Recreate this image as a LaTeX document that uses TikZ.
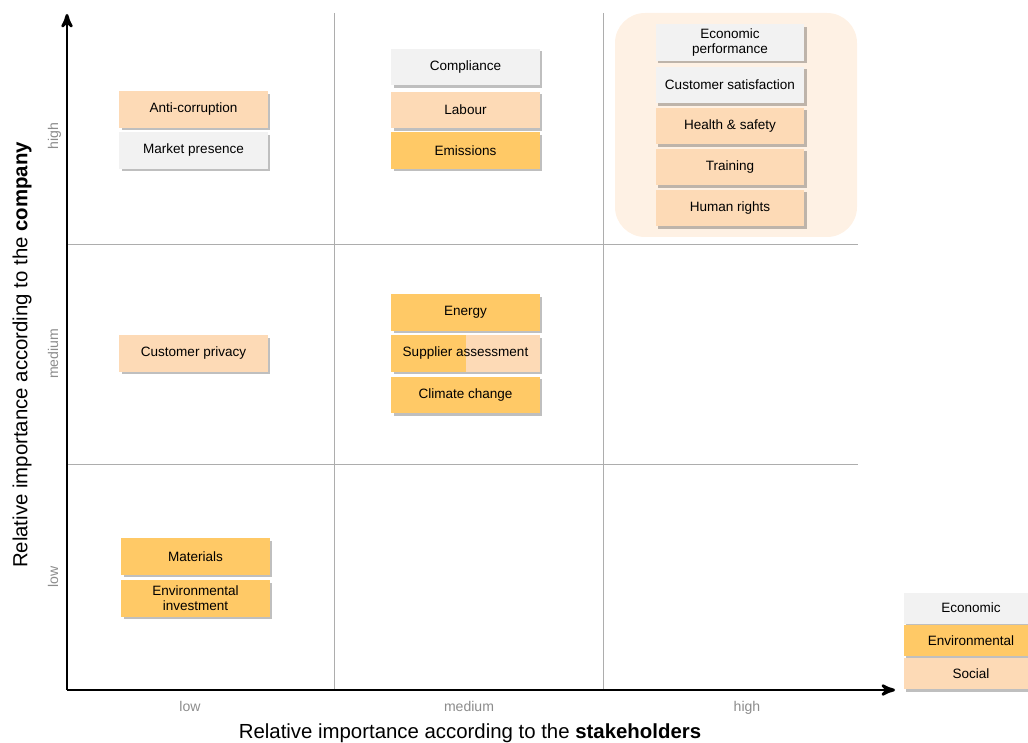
\documentclass[tikz,border=0pt]{standalone}
\usepackage{fontspec}
\setmainfont{Liberation Sans}
\usepackage{tikz}
\usetikzlibrary{arrows}
\usetikzlibrary{shadows}

\definecolor{econ}{HTML}{F2F2F2}
\definecolor{envi}{HTML}{FFC966}
\definecolor{soci}{HTML}{FDDAB6}
\definecolor{halo}{HTML}{FEF1E4}
\definecolor{gridgray}{HTML}{ADADAD}
\definecolor{ticktext}{HTML}{8C8C8C}

\tikzset{
  topic/.style={minimum width=2.98cm, minimum height=0.73cm, inner sep=1pt,
    align=center, font=\fontsize{7.7}{8.6}\selectfont,
    drop shadow={shadow xshift=0.05cm, shadow yshift=-0.05cm, fill=black, opacity=0.25}},
  econbox/.style={topic, fill=econ},
  envibox/.style={topic, fill=envi},
  socibox/.style={topic, fill=soci},
  tick/.style={text=ticktext, font=\fontsize{8}{9}\selectfont, text height=1.5ex, text depth=0.4ex},
  gridline/.style={gridgray, line width=0.5pt}
}

\begin{document}
\begin{tikzpicture}[x=0.02cm, y=-0.02cm]
\useasboundingbox (0,0) rectangle (1028,743);

% highlighted group
\fill[halo, rounded corners=0.6cm] (615,13) rectangle (857,237);

% grid
\draw[gridline] (334,13) -- (334,690);
\draw[gridline] (603,13) -- (603,690);
\draw[gridline] (67,244) -- (858,244);
\draw[gridline] (67,464) -- (858,464);

% axes
\coordinate (origin) at (67,690);
\coordinate (ytop) at (67,14);
\coordinate (xend) at (895,690);
\draw[line width=1.6pt, -stealth'] (origin) -- (ytop);
\draw[line width=1.6pt, -stealth'] (origin) -- (xend);

\node[tick] (xlow) at (190,706) {low};
\node[tick] (xmed) at (469,706) {medium};
\node[tick] (xhigh) at (747,706) {high};
\node[tick, rotate=90] (ylow) at (53,577) {low};
\node[tick, rotate=90] (ymed) at (53,354) {medium};
\node[tick, rotate=90] (yhigh) at (53,136) {high};

\node[font=\fontsize{11.6}{13}\selectfont] (xtitle) at (470,733)
  {Relative importance according to the \textbf{stakeholders}};
\node[font=\fontsize{11.6}{13}\selectfont, rotate=90] (ytitle) at (22,355)
  {Relative importance according to the \textbf{company}};

% low stakeholders
\node[socibox] (anticorr) at (193.5,109.5) {Anti-corruption};
\node[econbox] (market) at (193.5,150.5) {Market presence};
\node[socibox] (privacy) at (193.5,353.5) {Customer privacy};
\node[envibox] (materials) at (195.5,556.5) {Materials};
\node[envibox] (envinvest) at (195.5,598.5) {Environmental\\investment};

% medium stakeholders
\node[econbox] (compliance) at (465.5,67) {Compliance};
\node[socibox] (labour) at (465.5,110) {Labour};
\node[envibox] (emissions) at (465.5,150.5) {Emissions};
\node[envibox] (energy) at (465.5,312.5) {Energy};
\node[socibox, path picture={\fill[envi] (path picture bounding box.south west)
  rectangle (path picture bounding box.north);}] (supplier) at (465.5,353.5)
  {Supplier assessment};
\node[envibox] (climate) at (465.5,395) {Climate change};

% high stakeholders
\node[econbox] (econperf) at (730,42.5) {Economic\\performance};
\node[econbox] (custsat) at (730,85) {Customer satisfaction};
\node[socibox] (health) at (730,126) {Health \& safety};
\node[socibox] (training) at (730,167) {Training};
\node[socibox] (rights) at (730,208) {Human rights};

% legend
\node[econbox, minimum width=2.7cm, minimum height=0.62cm] (legecon) at (971,608) {Economic};
\node[envibox, minimum width=2.7cm, minimum height=0.62cm] (legenvi) at (971,640.5) {Environmental};
\node[socibox, minimum width=2.7cm, minimum height=0.62cm] (legsoci) at (971,673.5) {Social};
\end{tikzpicture}
\end{document}
